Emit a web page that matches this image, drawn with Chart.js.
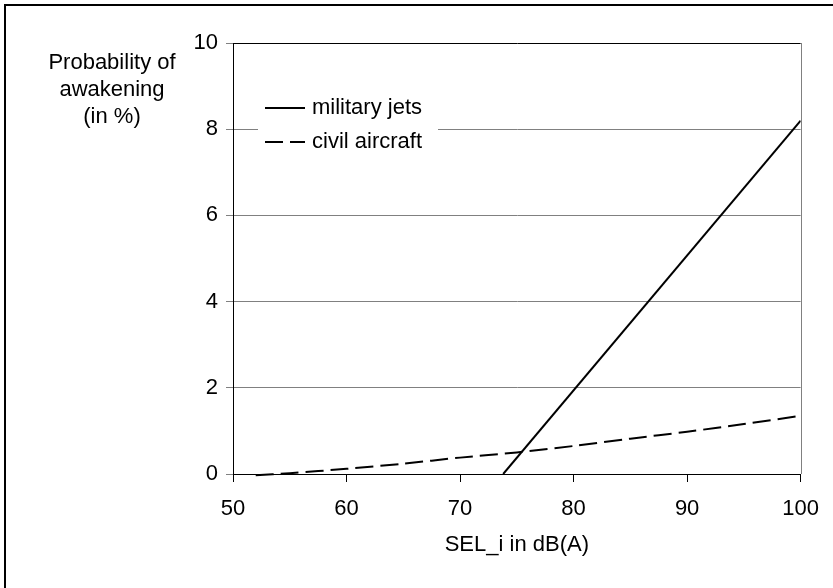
<!DOCTYPE html>
<html>
<head>
<meta charset="utf-8">
<script src="https://cdn.jsdelivr.net/npm/chart.js@4.4.1/dist/chart.umd.min.js"></script>
<style>
  body { margin: 0; background: #fff; }
  #wrap { position: relative; width: 833px; height: 588px; }
</style>
</head>
<body>
<div id="wrap"><canvas id="awakeChart" width="833" height="588"></canvas></div>
<script>
const jetLevels = [73.8, 100];
const jetProb = [0, 8.2];

const civilLevels = [52, 55, 60, 65, 70, 75, 80, 85, 90, 95, 100];
const civilProb = [-0.03, 0.02, 0.12, 0.24, 0.38, 0.5, 0.65, 0.82, 0.98, 1.16, 1.35];

const xTicks = [50, 60, 70, 80, 90, 100];
const yTicks = [0, 2, 4, 6, 8, 10];

const FONT = "'Liberation Sans', Arial, sans-serif";

const toPoints = (xs, ys) => xs.map((x, i) => ({ x: x, y: ys[i] }));

// frame, titles and legend
const extras = {
  id: "extras",
  beforeDatasetsDraw(chart) {
    const ctx = chart.ctx;
    const a = chart.chartArea;
    ctx.save();
    // right edge of plot area
    ctx.strokeStyle = "#808080";
    ctx.lineWidth = 1;
    ctx.beginPath();
    ctx.moveTo(Math.round(a.right) + 0.5, a.top);
    ctx.lineTo(Math.round(a.right) + 0.5, a.bottom);
    ctx.stroke();
    ctx.restore();
  },
  afterDraw(chart) {
    const ctx = chart.ctx;
    const a = chart.chartArea;
    ctx.save();
    // outer frame (top and left only visible)
    ctx.strokeStyle = "#000";
    ctx.lineWidth = 2;
    ctx.beginPath();
    ctx.moveTo(5, 588);
    ctx.lineTo(5, 5);
    ctx.lineTo(833, 5);
    ctx.stroke();

    ctx.fillStyle = "#000";
    ctx.font = "22px " + FONT;
    ctx.textAlign = "center";
    ctx.textBaseline = "middle";
    ctx.fillText("Probability of", 112, 63);
    ctx.fillText("awakening", 112, 90);
    ctx.fillText("(in %)", 112, 117);

    ctx.fillText("SEL_i in dB(A)", (a.left + a.right) / 2, a.bottom + 71);

    // legend
    ctx.fillStyle = "#fff";
    ctx.fillRect(258, 92, 180, 68);
    const rows = [108, 142];
    chart.data.datasets.forEach((ds, i) => {
      const y = rows[i];
      ctx.strokeStyle = ds.borderColor;
      ctx.lineWidth = ds.borderWidth;
      ctx.setLineDash(ds.borderDash || []);
      ctx.beginPath();
      ctx.moveTo(265, y);
      ctx.lineTo(305, y);
      ctx.stroke();
      ctx.setLineDash([]);
      ctx.fillStyle = "#000";
      ctx.textAlign = "left";
      ctx.fillText(ds.label, 312, y);
    });
    ctx.restore();
  }
};

const data = {
  datasets: [
    {
      label: "military jets",
      data: toPoints(jetLevels, jetProb),
      borderColor: "#000",
      borderWidth: 2,
      pointRadius: 0,
      tension: 0,
    },
    {
      label: "civil aircraft",
      data: toPoints(civilLevels, civilProb),
      borderColor: "#000",
      borderWidth: 2,
      borderDash: [18, 7],
      pointRadius: 0,
      tension: 0.3,
      clip: 4,
    },
  ],
};

const config = {
  type: "line",
  data: data,
  plugins: [extras],
  options: {
    responsive: false,
    animation: false,
    layout: { padding: { top: 43, right: 31, left: 0, bottom: 0 } },
    plugins: {
      legend: { display: false },
      tooltip: { enabled: false },
    },
    scales: {
      x: {
        type: "linear",
        min: 50,
        max: 100,
        afterBuildTicks: (s) => { s.ticks = xTicks.map((v) => ({ value: v })); },
        afterFit: (s) => { s.height = 114; },
        ticks: { color: "#000", font: { size: 22, family: FONT }, padding: 14, maxRotation: 0 },
        grid: { display: true, drawOnChartArea: false, drawTicks: true, tickLength: 8, color: "#000" },
        border: { color: "#000", width: 1 },
      },
      y: {
        min: 0,
        max: 10,
        afterBuildTicks: (s) => { s.ticks = yTicks.map((v) => ({ value: v })); },
        afterFit: (s) => { s.width = 233; },
        ticks: { color: "#000", font: { size: 22, family: FONT }, padding: 8 },
        grid: {
          color: (c) => (c.tick && (c.tick.value === 10 || c.tick.value === 0) ? "#000" : "#808080"),
          tickColor: "#808080",
          tickLength: 7,
        },
        border: { color: "#000", width: 1 },
      },
    },
  },
};

const awakeChart = new Chart(document.getElementById("awakeChart"), config);
</script>
</body>
</html>
